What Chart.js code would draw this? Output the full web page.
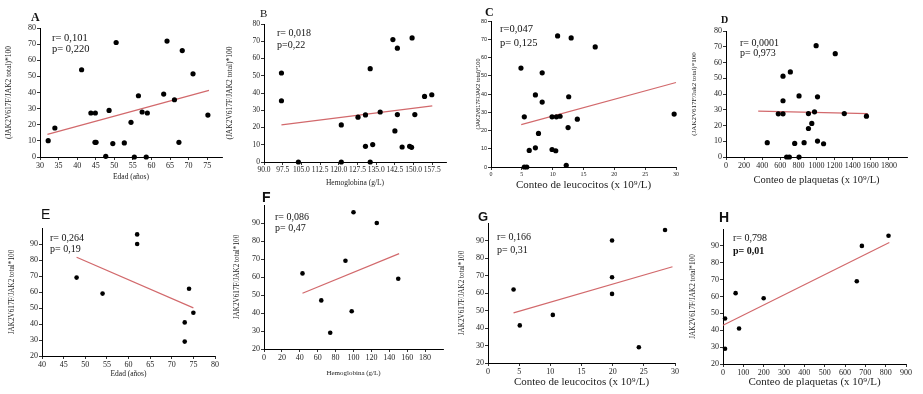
<!DOCTYPE html>
<html lang="es">
<head>
<meta charset="UTF-8">
<title>JAK2V617F - correlaciones</title>
<script src="https://cdn.jsdelivr.net/npm/chart.js"></script>
<style>
  html, body { margin: 0; padding: 0; background: #fff; }
  body { width: 923px; height: 394px; position: relative; overflow: hidden; }
  canvas { position: absolute; }
</style>
</head>
<body>
<script>
// ---- data ----
// A: edad vs carga alélica
const aEdad = [32.2, 34, 41.2, 43.7, 44.9, 44.8, 45.1, 47.7, 48.6, 49.6, 50.5, 52.7, 54.5, 55.4, 56.5, 57.5, 58.9, 58.6, 63.3, 64.2, 66.2, 67.4, 68.3, 71.2, 75.2];
const aJak  = [10.1, 18, 54.1, 27.3, 27.3, 9.1, 9.1, 0.4, 28.9, 8.3, 71, 8.7, 21.5, 0, 38, 27.9, 27.3, 0, 39, 71.9, 35.5, 9.1, 66, 51.6, 26];
const aFitX = [32, 75.5];
const aFitY = [14, 41.3];

// B: hemoglobina
const bHb  = [97, 97, 103.8, 121, 121, 127.7, 130.7, 130.7, 132.6, 132.6, 133.6, 136.6, 141.7, 142.5, 143.5, 143.5, 145.4, 148.4, 149.2, 149.4, 150.5, 154.4, 157.3];
const bJak = [51.6, 35.5, 0, 21.5, 0, 26, 27.3, 9.1, 54.1, 0, 10.1, 29, 71, 18, 66, 27.5, 8.7, 9.1, 8.5, 71.9, 27.5, 38, 39];
const bFitX = [97, 157.5];
const bFitY = [21.5, 32.5];

// C: leucocitos
const cLeu = [4.86, 5.4, 5.4, 5.8, 6.2, 7.2, 7.2, 7.7, 8.3, 8.3, 9.9, 9.9, 10.6, 10.5, 10.8, 11.2, 12.2, 12.5, 12.6, 13.0, 14.0, 16.9, 29.7];
const cJak = [54.2, 27.5, 0, 0, 9.1, 10.5, 39.5, 18.4, 51.6, 35.6, 27.5, 9.6, 27.5, 8.9, 71.8, 27.8, 0.9, 21.6, 38.5, 70.7, 26.2, 65.8, 29];
const cFitX = [4.9, 30];
const cFitY = [23.2, 46.3];

// D: plaquetas
const dPlq = [456, 578, 630, 630, 630, 670, 700, 711, 759, 807, 807, 863, 911, 911, 948, 978, 996, 1011, 1011, 1078, 1207, 1307, 1552];
const dJak = [9.1, 27.4, 27.4, 35.7, 51.3, 0, 0, 54, 8.6, 38.8, 0, 9.1, 27.6, 18.1, 21.3, 28.7, 70.7, 38.2, 10.1, 8.4, 65.6, 27.6, 25.9];
const dFitX = [356, 1567];
const dFitY = [29.1, 27.6];

// E-H: second group
const eEdad = [48, 54, 62, 62, 73, 73, 74, 75];
const eJak  = [69, 59, 96, 90, 29, 41, 62, 47];
const eFitX = [48, 75];
const eFitY = [81.7, 50.1];

const fHb  = [43, 64, 74, 91, 98, 100, 126, 150];
const fJak = [62, 47, 29, 69, 41, 96, 90, 59];
const fFitX = [43, 151];
const fFitY = [51, 73];

const gLeu = [4.1, 5.1, 10.4, 19.9, 19.9, 19.9, 24.2, 28.4];
const gJak = [62, 41.5, 47.5, 90, 69, 59.5, 29, 96];
const gFitX = [4.1, 29.6];
const gFitY = [48.6, 75];

const hPlq = [10, 10, 62, 79, 200, 658, 683, 814];
const hJak = [47, 29, 62, 41, 59, 69, 90, 96];
const hFitX = [0, 818];
const hFitY = [43, 92];

// tick labels
const ticksEdadA = [30, 35, 40, 45, 50, 55, 60, 65, 70, 75];
const ticksHbB   = [90, 97.5, 105, 112.5, 120, 127.5, 135, 142.5, 150, 157.5];
const ticksLeu   = [0, 5, 10, 15, 20, 25, 30];
const ticksPlqD  = [0, 200, 400, 600, 800, 1000, 1200, 1400, 1600, 1800];
const ticksEdadE = [40, 45, 50, 55, 60, 65, 70, 75, 80];
const ticksHbF   = [0, 20, 40, 60, 80, 100, 120, 140, 160, 180];
const ticksPlqH  = [0, 100, 200, 300, 400, 500, 600, 700, 800, 900];
const ticksJakTop = [0, 10, 20, 30, 40, 50, 60, 70, 80];
const ticksJakBot = [20, 30, 40, 50, 60, 70, 80, 90];

// ---- drawing ----
const SERIF = '"Liberation Serif", "Times New Roman", serif';
const SANS = '"Liberation Sans", Arial, sans-serif';
const FIT_COLOR = '#d2696c';

const notesPlugin = {
  id: 'notes',
  afterDraw(chart, args, opts) {
    const ctx = chart.ctx;
    ctx.save();
    ctx.textBaseline = 'middle';
    ctx.textAlign = 'left';
    ctx.fillStyle = '#111';
    (opts.items || []).forEach(n => {
      ctx.font = n.font;
      ctx.fillText(n.text, n.x - opts.ox, n.y - opts.oy);
    });
    ctx.restore();
  }
};

function pairs(xs, ys) {
  return xs.map((x, i) => ({ x: x, y: ys[i] }));
}

function axis(min, max, ticks, fmt, tickFont, title, titleFont, size, horiz) {
  return {
    type: 'linear',
    min: min,
    max: max,
    afterBuildTicks: s => { s.ticks = ticks.map(v => ({ value: v })); },
    afterFit: s => { if (horiz) s.height = size; else s.width = size; },
    ticks: { callback: fmt, font: tickFont, color: '#222', padding: 1, autoSkip: false, maxRotation: 0, minRotation: 0 },
    grid: { drawOnChartArea: false, drawTicks: true, tickLength: 3, color: '#000', lineWidth: 0.8 },
    border: { display: true, color: '#000', width: 1 },
    title: { display: true, text: title, font: titleFont, color: '#222', padding: 0 }
  };
}

function makePanel(p) {
  const padT = 24, padR = 14;
  const ylh = p.yTitleSize * 1.2, xlh = p.xTitleSize * 1.2;
  const left = Math.round(p.ytx - ylh / 2);
  const top = p.T - padT;
  const yW = p.L - left;
  const w = p.R - left + padR;
  const h = Math.round(p.xty + xlh / 2 - top);
  const xH = h - (p.B - top);

  const canvas = document.createElement('canvas');
  canvas.width = w;
  canvas.height = h;
  canvas.style.left = left + 'px';
  canvas.style.top = top + 'px';
  canvas.style.width = w + 'px';
  canvas.style.height = h + 'px';
  document.body.appendChild(canvas);

  const fmt = p.fmt || (v => String(v));
  new Chart(canvas.getContext('2d'), {
    type: 'scatter',
    data: {
      datasets: [
        { data: pairs(p.xs, p.ys), backgroundColor: '#000', borderWidth: 0, pointRadius: p.r, clip: false },
        { type: 'line', data: pairs(p.fitX, p.fitY), borderColor: FIT_COLOR, borderWidth: 1.2, pointRadius: 0, fill: false, clip: false }
      ]
    },
    options: {
      responsive: false,
      animation: false,
      layout: { padding: { top: padT, right: padR, left: 0, bottom: 0 } },
      plugins: {
        legend: { display: false },
        tooltip: { enabled: false },
        notes: { items: p.notes, ox: left, oy: top }
      },
      scales: {
        x: axis(p.xMin, p.xMax, p.xTicks, fmt, { family: SERIF, size: p.tickSize },
                p.xTitle, { family: SERIF, size: p.xTitleSize }, xH, true),
        y: axis(p.yMin, p.yMax, p.yTicks, v => String(v), { family: p.yTickFamily || SERIF, size: p.yTickSize || p.tickSize },
                p.yTitle, { family: p.yTitleFamily || SERIF, size: p.yTitleSize }, yW, false)
      }
    },
    plugins: [notesPlugin]
  });
}

const f = (s, fam, b) => (b ? 'bold ' : '') + s + 'px ' + fam;

const panels = [
  { L: 40, R: 222, T: 28, B: 157, ytx: 9, xty: 177,
    xs: aEdad, ys: aJak, fitX: aFitX, fitY: aFitY, r: 2.6,
    xMin: 30, xMax: 79, xTicks: ticksEdadA, yMin: 0, yMax: 80, yTicks: ticksJakTop,
    tickSize: 8, xTitle: 'Edad (años)', xTitleSize: 7.5,
    yTitle: '(JAK2V617F/JAK2 total)*100', yTitleSize: 7.5,
    notes: [
      { text: 'A', x: 31, y: 18, font: f(12, SERIF, true) },
      { text: 'r= 0,101', x: 52, y: 38, font: f(10.5, SERIF) },
      { text: 'p= 0,220', x: 52, y: 49.5, font: f(10.5, SERIF) }
    ] },
  { L: 264, R: 446, T: 24, B: 162, ytx: 230, xty: 183,
    xs: bHb, ys: bJak, fitX: bFitX, fitY: bFitY, r: 2.6,
    xMin: 90, xMax: 163, xTicks: ticksHbB, yMin: 0, yMax: 80, yTicks: ticksJakTop,
    fmt: v => v.toFixed(1),
    tickSize: 7.5, xTitle: 'Hemoglobina (g/L)', xTitleSize: 7.5,
    yTitle: '(JAK2V617F/JAK2 total)*100', yTitleSize: 7.5,
    notes: [
      { text: 'B', x: 260, y: 14, font: f(11, SERIF) },
      { text: 'r= 0,018', x: 277, y: 33, font: f(10, SERIF) },
      { text: 'p=0,22', x: 277, y: 45, font: f(10, SERIF) }
    ] },
  { L: 491, R: 676, T: 21, B: 167, ytx: 478, xty: 185,
    xs: cLeu, ys: cJak, fitX: cFitX, fitY: cFitY, r: 2.6,
    xMin: 0, xMax: 30, xTicks: ticksLeu, yMin: 0, yMax: 80, yTicks: ticksJakTop,
    tickSize: 6, yTickFamily: SANS, yTickSize: 5.5,
    xTitle: 'Conteo de leucocitos (x 10⁹/L)', xTitleSize: 11,
    yTitle: '(JAK2V617F/JAK2 total)*100', yTitleSize: 5.5, yTitleFamily: SANS,
    notes: [
      { text: 'C', x: 485, y: 13, font: f(12, SERIF, true) },
      { text: 'r=0,047', x: 500, y: 29, font: f(10.5, SERIF) },
      { text: 'p= 0,125', x: 500, y: 43, font: f(10.5, SERIF) }
    ] },
  { L: 726, R: 907, T: 31, B: 157, ytx: 694, xty: 181,
    xs: dPlq, ys: dJak, fitX: dFitX, fitY: dFitY, r: 2.6,
    xMin: 0, xMax: 2000, xTicks: ticksPlqD, yMin: 0, yMax: 80, yTicks: ticksJakTop,
    tickSize: 8, xTitle: 'Conteo de plaquetas (x 10⁹/L)', xTitleSize: 10.5,
    yTitle: '(JAK2V617F/Jak2 total)*100', yTitleSize: 7,
    notes: [
      { text: 'D', x: 721, y: 20, font: f(10, SERIF, true) },
      { text: 'r= 0,0001', x: 740, y: 43, font: f(10, SERIF) },
      { text: 'p= 0,973', x: 740, y: 53.5, font: f(10, SERIF) }
    ] },
  { L: 42, R: 215, T: 228, B: 356, ytx: 12, xty: 374,
    xs: eEdad, ys: eJak, fitX: eFitX, fitY: eFitY, r: 2.3,
    xMin: 40, xMax: 80, xTicks: ticksEdadE, yMin: 20, yMax: 100, yTicks: ticksJakBot,
    tickSize: 8, xTitle: 'Edad (años)', xTitleSize: 7.5,
    yTitle: 'JAK2V617F/JAK2 total*100', yTitleSize: 7.2,
    notes: [
      { text: 'E', x: 41, y: 215, font: f(14, SANS) },
      { text: 'r= 0,264', x: 50, y: 238, font: f(10, SERIF) },
      { text: 'p= 0,19', x: 50, y: 249.5, font: f(10, SERIF) }
    ] },
  { L: 264, R: 443, T: 205, B: 349, ytx: 237, xty: 373,
    xs: fHb, ys: fJak, fitX: fFitX, fitY: fFitY, r: 2.3,
    xMin: 0, xMax: 200, xTicks: ticksHbF, yMin: 20, yMax: 100, yTicks: ticksJakBot,
    tickSize: 8, xTitle: 'Hemoglobina (g/L)', xTitleSize: 7,
    yTitle: 'JAK2V617F/JAK2 total*100', yTitleSize: 7.2,
    notes: [
      { text: 'F', x: 262, y: 198, font: f(14, SANS, true) },
      { text: 'r= 0,086', x: 275, y: 217, font: f(10, SERIF) },
      { text: 'p= 0,47', x: 275, y: 228, font: f(10, SERIF) }
    ] },
  { L: 488, R: 675, T: 223, B: 363, ytx: 462, xty: 382,
    xs: gLeu, ys: gJak, fitX: gFitX, fitY: gFitY, r: 2.3,
    xMin: 0, xMax: 30, xTicks: ticksLeu, yMin: 20, yMax: 100, yTicks: ticksJakBot,
    tickSize: 8, xTitle: 'Conteo de leucocitos (x 10⁹/L)', xTitleSize: 11,
    yTitle: 'JAK2V617F/JAK2 total*100', yTitleSize: 7.2,
    notes: [
      { text: 'G', x: 478, y: 217, font: f(13, SANS, true) },
      { text: 'r= 0,166', x: 497, y: 237, font: f(10, SERIF) },
      { text: 'p= 0,31', x: 497, y: 250.5, font: f(10, SERIF) }
    ] },
  { L: 723, R: 906, T: 229, B: 364, ytx: 693, xty: 382,
    xs: hPlq, ys: hJak, fitX: hFitX, fitY: hFitY, r: 2.3,
    xMin: 0, xMax: 900, xTicks: ticksPlqH, yMin: 20, yMax: 100, yTicks: ticksJakBot,
    tickSize: 8, xTitle: 'Conteo de plaquetas (x 10⁹/L)', xTitleSize: 11,
    yTitle: 'JAK2V617F/JAK2 total*100', yTitleSize: 7.2,
    notes: [
      { text: 'H', x: 719, y: 218, font: f(14, SANS, true) },
      { text: 'r= 0,798', x: 733, y: 238, font: f(10, SERIF) },
      { text: 'p= 0,01', x: 733, y: 251, font: f(10, SERIF, true) }
    ] }
];

panels.forEach(makePanel);
</script>
</body>
</html>
